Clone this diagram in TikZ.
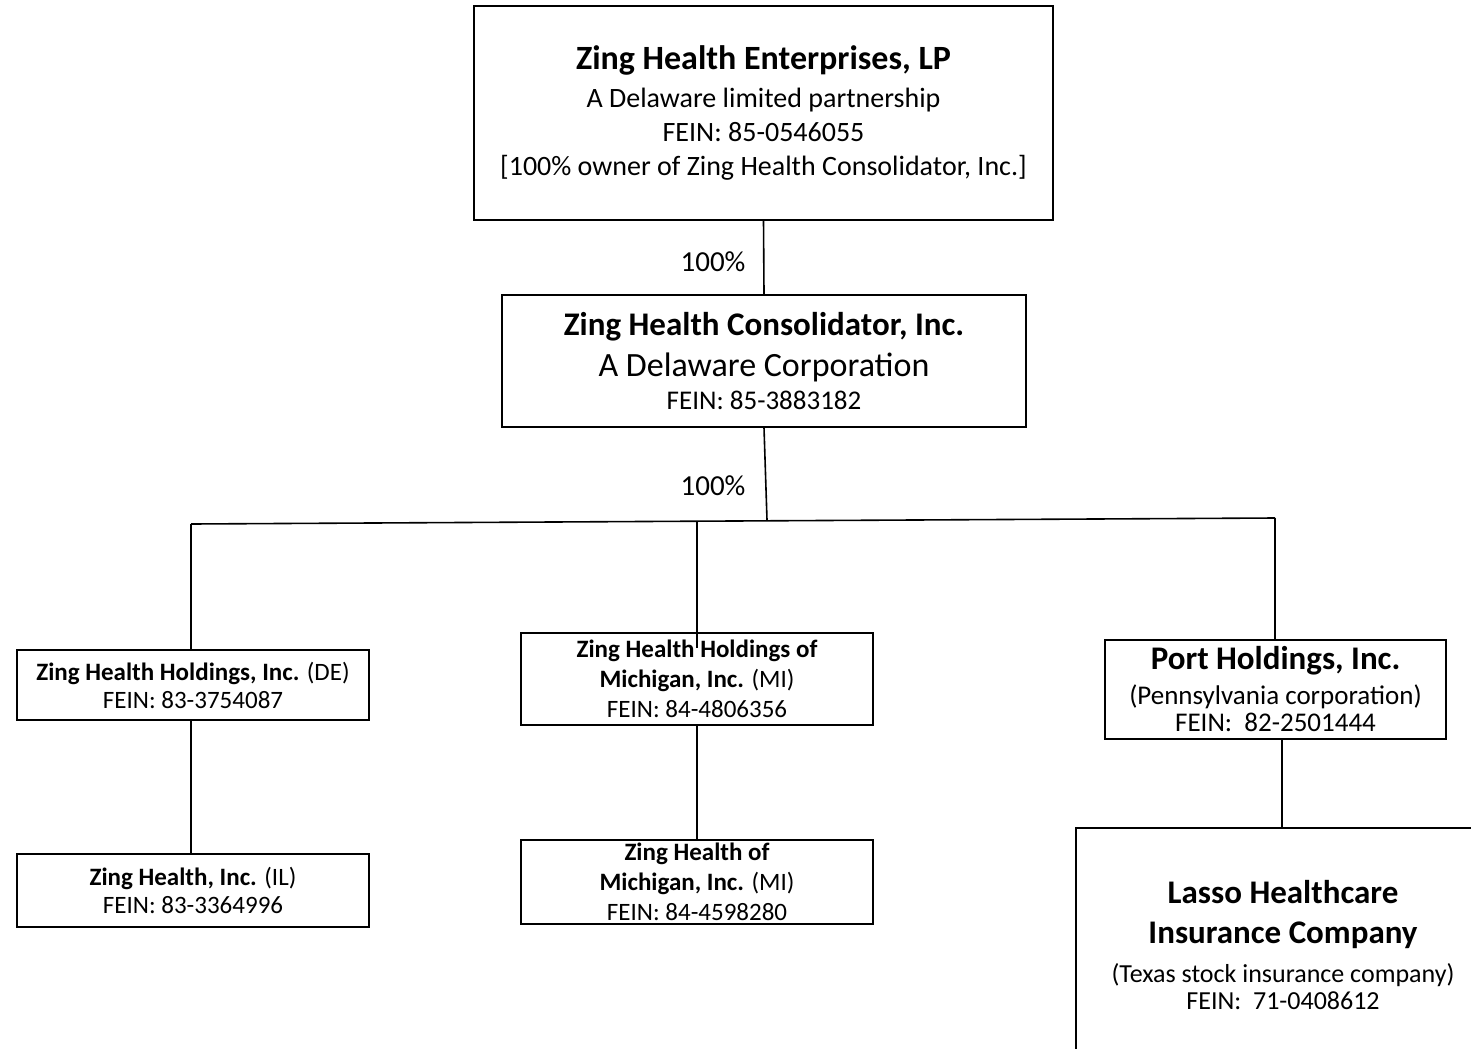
\documentclass[tikz,border=0pt]{standalone}
\usepackage{fontspec}
\setmainfont{Carlito}
\begin{document}
\begin{tikzpicture}[x=1pt,y=-1pt,
  box/.style={draw,line width=1.6pt,inner sep=0pt,align=center},
  conn/.style={line width=1.6pt},
  pct/.style={font=\fontsize{29}{32}\selectfont}]
\useasboundingbox (0,0) rectangle (1471,1049);
\fill[white] (0,0) rectangle (1471,1049);
% boxes
\node[box,minimum width=579pt,minimum height=214pt,font=\fontsize{28}{34}\selectfont] (zhe) at (763.5,113)
  {{\fontsize{34}{38}\selectfont\bfseries Zing Health Enterprises, LP}\\[4pt]A Delaware limited partnership\\FEIN: 85-0546055\\{[}100\% owner of Zing Health Consolidator, Inc.{]}};
\node[box,minimum width=524pt,minimum height=132pt,font=\fontsize{27}{33}\selectfont] (zhc) at (764,361)
  {{\fontsize{33}{38}\selectfont\bfseries Zing Health Consolidator, Inc.}\\[8pt]{\fontsize{34}{40}\selectfont A Delaware Corporation}\\FEIN: 85-3883182};
\node[box,minimum width=352pt,minimum height=70pt,font=\fontsize{25}{28}\selectfont] (zhh) at (193,685)
  {\textbf{Zing Health Holdings, Inc.} (DE)\\FEIN: 83-3754087};
\node[box,minimum width=352pt,minimum height=92pt,font=\fontsize{25}{30}\selectfont] (zhm) at (697,679)
  {\textbf{Zing Health Holdings of}\\\textbf{Michigan, Inc.} (MI)\\FEIN: 84-4806356};
\node[box,minimum width=341pt,minimum height=99pt,font=\fontsize{27}{27}\selectfont] (port) at (1275.5,689.5)
  {{\fontsize{33}{38}\selectfont\bfseries Port Holdings, Inc.}\\[8pt](Pennsylvania corporation)\\FEIN:\ \ 82-2501444};
\node[box,minimum width=352pt,minimum height=73pt,font=\fontsize{25}{28}\selectfont] (zhi) at (193,890.5)
  {\textbf{Zing Health, Inc.} (IL)\\FEIN: 83-3364996};
\node[box,minimum width=352pt,minimum height=84pt,font=\fontsize{25}{30}\selectfont] (zhmi) at (697,882)
  {\textbf{Zing Health of}\\\textbf{Michigan, Inc.} (MI)\\FEIN: 84-4598280};
\node[align=center,inner sep=0pt,font=\fontsize{26}{27}\selectfont] (lasso) at (1283,945)
  {{\fontsize{33}{38}\selectfont\bfseries Lasso Healthcare}\\[13pt]{\fontsize{33}{38}\selectfont\bfseries Insurance Company}\\[12pt](Texas stock insurance company)\\FEIN:\ \ 71-0408612};
\draw[conn] (1471,828) -- (1076,828) -- (1076,1049);
% junctions
\coordinate (j) at (767,520);
\coordinate (hl) at (191,524);
\coordinate (hm) at (697,522);
\coordinate (hr) at (1275,518);
\coordinate (mend) at (697,648);
\coordinate (pl) at (1282,828);
% connectors
\draw[conn] (zhe.south) -- (zhc.north);
\draw[conn] (zhc.south) -- (j);
\draw[conn] (hl) -- (hr);
\draw[conn] (hl) -- (zhh.north -| hl);
\draw[conn] (hm) -- (mend);
\draw[conn] (hr) -- (port.north -| hr);
\draw[conn] (zhh.south -| hl) -- (zhi.north -| hl);
\draw[conn] (zhm.south) -- (zhmi.north);
\draw[conn] (port.south -| pl) -- (pl);
% labels
\node[pct] (p1) at (713,262) {100\%};
\node[pct] (p2) at (713,486) {100\%};
\end{tikzpicture}
\end{document}
